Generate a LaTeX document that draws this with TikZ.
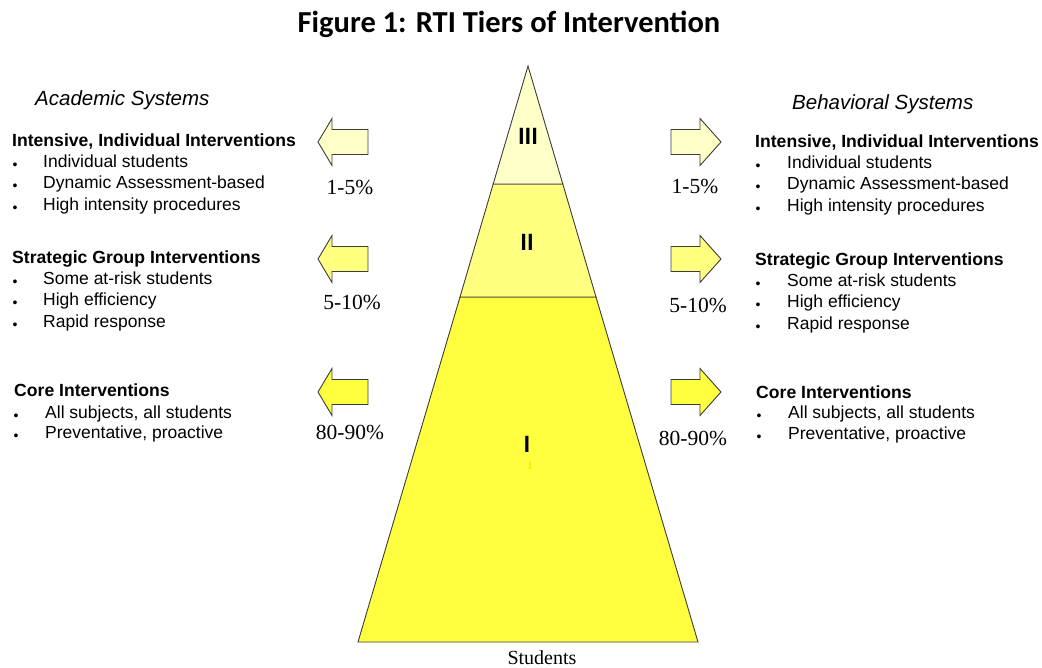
\documentclass[tikz,border=0pt]{standalone}
\usepackage{fontspec}
\setmainfont{Liberation Sans}
\newfontfamily\pctfont{Liberation Serif}
\newfontfamily\titlefont{Carlito}
\definecolor{tierone}{HTML}{FFFF40}
\definecolor{tiertwo}{HTML}{FFFF80}
\definecolor{tierthree}{HTML}{FFFFC8}
\definecolor{edgegray}{HTML}{3C3C3C}
\definecolor{faintone}{HTML}{F5EA00}

\begin{document}
\begin{tikzpicture}[x=1pt,y=-1pt]
            \tikzstyle{figtitle}=[font=\titlefont\bfseries\fontsize{30.5}{33}\selectfont,inner sep=0pt]
            \tikzstyle{sysname}=[font=\itshape\fontsize{20.5}{23}\selectfont,anchor=west,inner sep=0pt,text height=14.5pt,text depth=0pt]
            \tikzstyle{heading}=[font=\bfseries\fontsize{17.6}{20}\selectfont,anchor=west,inner sep=0pt,text height=12.6pt,text depth=0pt]
            \tikzstyle{item}=[font=\fontsize{17.5}{20}\selectfont,anchor=west,inner sep=0pt,text height=12.5pt,text depth=0pt]
            \tikzstyle{dot}=[font=\fontsize{14}{15}\selectfont,inner sep=0pt,yshift=-5pt]
            \tikzstyle{pct}=[font=\pctfont\fontsize{21.5}{24}\selectfont,inner sep=0pt,text height=14.5pt,text depth=0pt]
            \tikzstyle{numeral}=[font=\titlefont\bfseries\fontsize{25}{27}\selectfont,inner sep=0pt,text height=16pt,text depth=0pt]
            \tikzstyle{tier}=[draw=edgegray,line width=0.9pt,line join=miter]
            \tikzstyle{block}=[draw=edgegray,line width=0.9pt]
            \useasboundingbox (0,0) rectangle (1042,668);

            \node[figtitle] (title) at (509,24) {Figure 1: RTI Tiers of Intervention};

            % pyramid
            \coordinate (apex) at (528,66);
            \coordinate (t3l) at (493.2,184);
            \coordinate (t3r) at (562.8,184);
            \coordinate (t2l) at (460,297);
            \coordinate (t2r) at (596,297);
            \coordinate (basel) at (358,642);
            \coordinate (baser) at (698,642);
            \draw[tier,fill=tierone] (t2l) -- (t2r) -- (baser) -- (basel) -- cycle;
            \draw[tier,fill=tiertwo] (t3l) -- (t3r) -- (t2r) -- (t2l) -- cycle;
            \draw[tier,fill=tierthree] (apex) -- (t3r) -- (t3l) -- cycle;
            \node[numeral] (N-3) at (528,136.5) {III};
            \node[numeral] (N-2) at (527,242.5) {II};
            \node[numeral] (N-1) at (527,444.5) {I};
            \node[font=\pctfont\bfseries\fontsize{11}{12}\selectfont,text=faintone,inner sep=0pt] (N-1b) at (530,466) {1};
            \node[font=\pctfont\fontsize{20}{22}\selectfont,inner sep=0pt,anchor=base] (students) at (542,664.5) {Students};

            % arrows, left and right
            \foreach \y/\col [count=\i] in {142/tierthree, 259/tiertwo, 392/tierone}
            {
                \draw[block,fill=\col] (318,\y) -- (332,\y-23.5) -- (332,\y-12.5) -- (368,\y-12.5)
                    -- (368,\y+12.5) -- (332,\y+12.5) -- (332,\y+23.5) -- cycle;
                \draw[block,fill=\col] (721,\y) -- (700,\y-23.5) -- (700,\y-12.5) -- (671,\y-12.5)
                    -- (671,\y+12.5) -- (700,\y+12.5) -- (700,\y+23.5) -- cycle;
            }
            \foreach \x/\y/\p [count=\i] in {350/187/1-5\%, 352/302/5-10\%, 350/432/80-90\%}
                \node[pct] (PL-\i) at (\x,\y) {\p};
            \foreach \x/\y/\p [count=\i] in {695/186/1-5\%, 698/305/5-10\%, 693/438/80-90\%}
                \node[pct] (PR-\i) at (\x,\y) {\p};

            % academic systems
            \node[sysname] (AS) at (35,98) {Academic Systems};
            \node[heading] (AH-1) at (12,140) {Intensive, Individual Interventions};
            \foreach \y/\t [count=\i] in {161/Individual students, 182/Dynamic Assessment-based, 204/High intensity procedures}
            {
                \node[dot] (AD-1-\i) at (15,\y) {•};
                \node[item] (AI-1-\i) at (43,\y) {\t};
            }
            \node[heading] (AH-2) at (12,257) {Strategic Group Interventions};
            \foreach \y/\t [count=\i] in {278/Some at-risk students, 299/High efficiency, 321/Rapid response}
            {
                \node[dot] (AD-2-\i) at (15,\y) {•};
                \node[item] (AI-2-\i) at (43,\y) {\t};
            }
            \node[heading] (AH-3) at (14,390) {Core Interventions};
            \foreach \y/\t [count=\i] in {412/{All subjects, all students}, 432/{Preventative, proactive}}
            {
                \node[dot] (AD-3-\i) at (16,\y) {•};
                \node[item] (AI-3-\i) at (45,\y) {\t};
            }

            % behavioral systems
            \node[sysname] (BS) at (792,102) {Behavioral Systems};
            \node[heading] (BH-1) at (755,141) {Intensive, Individual Interventions};
            \foreach \y/\t [count=\i] in {162/Individual students, 183/Dynamic Assessment-based, 205/High intensity procedures}
            {
                \node[dot] (BD-1-\i) at (758,\y) {•};
                \node[item] (BI-1-\i) at (787,\y) {\t};
            }
            \node[heading] (BH-2) at (755,259) {Strategic Group Interventions};
            \foreach \y/\t [count=\i] in {280/Some at-risk students, 301/High efficiency, 323/Rapid response}
            {
                \node[dot] (BD-2-\i) at (758,\y) {•};
                \node[item] (BI-2-\i) at (787,\y) {\t};
            }
            \node[heading] (BH-3) at (756,392) {Core Interventions};
            \foreach \y/\t [count=\i] in {412/{All subjects, all students}, 433/{Preventative, proactive}}
            {
                \node[dot] (BD-3-\i) at (759,\y) {•};
                \node[item] (BI-3-\i) at (788,\y) {\t};
            }
        \end{tikzpicture}
\end{document}
